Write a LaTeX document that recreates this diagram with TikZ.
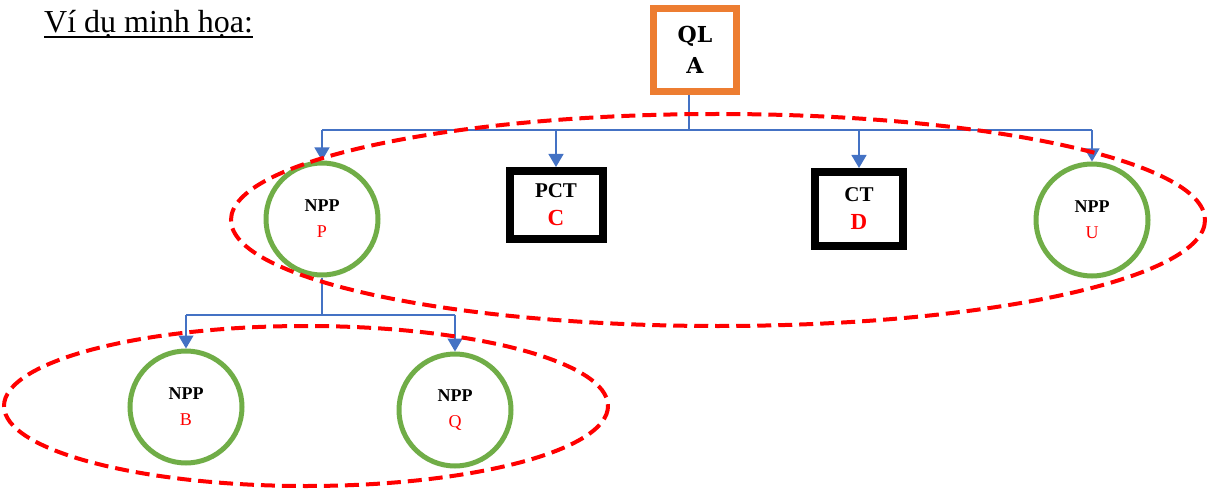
\documentclass[tikz,border=0pt]{standalone}
\usepackage{fontspec}
\setmainfont{Liberation Serif}
\newfontfamily\slabfont{DejaVu Serif}
\usetikzlibrary{arrows.meta, positioning}
\definecolor{mgrorange}{RGB}{237,125,49}
\definecolor{nppgreen}{RGB}{112,173,71}
\definecolor{linkblue}{RGB}{68,114,196}

\begin{document}
\begin{tikzpicture}[x=1pt, y=-1pt, >={Triangle[length=13pt, width=15pt]},
  npp/.style={circle, draw=nppgreen, line width=5pt, minimum size=112pt, inner sep=0pt,
    align=center, font=\fontsize{18}{26}\selectfont},
  office/.style={rectangle, draw=black, line width=8pt, inner sep=0pt, align=center,
    font=\fontsize{21}{28}\selectfont\bfseries},
  link/.style={draw=linkblue, line width=1.3pt},
  group/.style={draw=red, line width=4pt, dash pattern=on 14pt off 7pt}]
  \useasboundingbox (0,0) rectangle (1210,489);

  % === TITLE ===
  \node[anchor=base west, inner sep=0pt, font=\fontsize{32}{36}\selectfont] (title) at (44,33)
    {Ví dụ minh họa:};
  \draw[line width=2.2pt] ([yshift=-4pt]title.base west) -- ([yshift=-4pt]title.base east);

  % === TOP LEVEL ===
  \node[rectangle, draw=mgrorange, line width=7pt, minimum size=83pt, inner sep=0pt, align=center,
    font=\slabfont\fontsize{22}{31}\selectfont\bfseries] (ql) at (695,50) {QL\\A};

  % Nhánh cấp 1
  \node[npp] (p) at (322,219) {\textbf{NPP}\\\textcolor{red}{P}};
  \node[office, minimum width=93pt, minimum height=68pt] (pct) at (556,205)
    {PCT\\\textcolor{red}{\fontsize{23}{28}\selectfont C}};
  \node[office, minimum width=88pt, minimum height=74pt] (ct) at (859,209)
    {CT\\\textcolor{red}{\fontsize{23}{28}\selectfont D}};
  \node[npp] (u) at (1092,220) {\textbf{NPP}\\\textcolor{red}{U}};

  % Nhánh cấp 2
  \node[npp] (b) at (186,407) {\textbf{NPP}\\\textcolor{red}{B}};
  \node[npp] (q) at (455,410) {\textbf{NPP}\\\textcolor{red}{Q}};

  % === LIENS ===
  \coordinate (stem) at ([xshift=-6pt]ql.south);
  \coordinate (bus1) at (689,130);
  \coordinate (bus2) at (322,315);
  \draw[link] (stem) -- (bus1);
  \draw[link] (p.north |- bus1) -- (u.north |- bus1);
  \foreach \n in {p, pct, ct, u}
    \draw[link, ->] (\n.north |- bus1) -- (\n.north);
  \draw[link] (p.south) -- (bus2);
  \draw[link] (b.north |- bus2) -- (q.north |- bus2);
  \foreach \n in {b, q}
    \draw[link, ->] (\n.north |- bus2) -- (\n.north);

  % Groupes
  \draw[group] (718,220) ellipse [x radius=487, y radius=106];
  \draw[group] (306,406) ellipse [x radius=302, y radius=80];
\end{tikzpicture}
\end{document}
